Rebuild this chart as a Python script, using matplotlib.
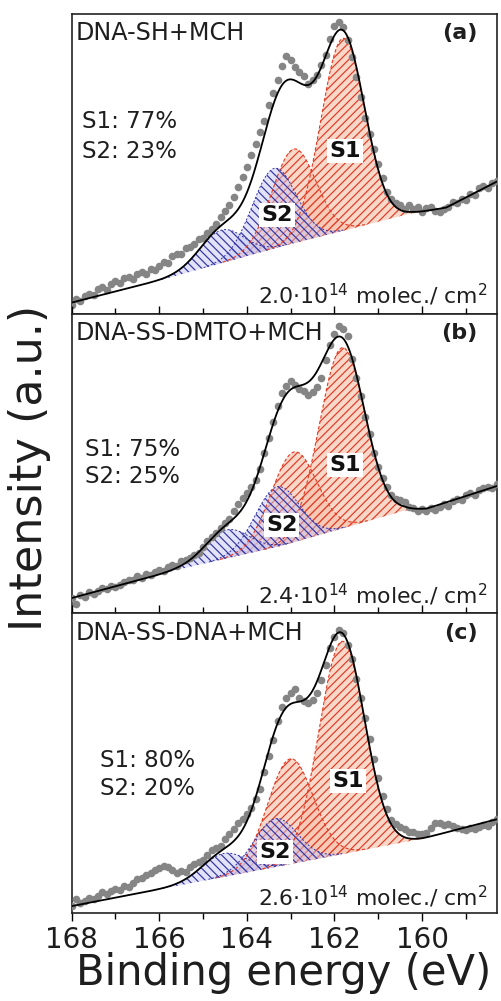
import numpy as np
import matplotlib.pyplot as plt
from matplotlib.ticker import MultipleLocator

plt.rcParams['font.family'] = 'DejaVu Sans'
plt.rcParams['hatch.linewidth'] = 0.85

# measured S 2p spectra, 0.1 eV steps starting at 168.0 eV
intensity_a = [
    3.0, 4.8, 4.2, 5.9, 6.5, 6.1, 8.2, 8.9, 8.0, 9.9,
    10.8, 10.2, 11.9, 12.4, 11.6, 13.2, 13.9, 13.4, 15.0, 14.6,
    15.8, 17.2, 17.0, 19.3, 19.8, 20.0, 21.9, 22.4, 23.1, 24.8,
    25.2, 26.9, 28.3, 30.0, 32.1, 34.3, 36.4, 39.0, 42.3, 45.6,
    48.9, 52.8, 56.7, 60.5, 64.4, 69.6, 73.8, 78.0, 82.6, 86.0,
    84.8, 82.2, 80.6, 79.3, 76.8, 78.1, 79.8, 82.9, 86.4, 91.5,
    95.9, 97.3, 95.6, 91.2, 85.6, 79.0, 72.3, 65.4, 59.8, 55.0,
    50.0, 45.3, 40.7, 38.2, 37.0, 36.4, 35.0, 36.2, 34.8, 35.5,
    33.9, 35.4, 35.7, 34.2, 33.8, 34.9, 35.6, 37.2, 37.0, 38.4,
    38.0, 40.1, 39.6, 41.8, 42.5, 41.9, 43.6, 44.3,
]
intensity_b = [
    5.0, 3.2, 6.2, 5.4, 7.0, 6.6, 7.5, 8.6, 8.1, 9.2,
    8.8, 9.6, 10.4, 11.2, 11.0, 12.3, 11.8, 13.2, 12.9, 13.9,
    14.5, 14.1, 15.4, 16.2, 15.8, 17.4, 17.9, 18.6, 19.4, 20.3,
    22.0, 24.2, 25.5, 26.8, 28.4, 30.2, 31.5, 34.2, 36.4, 38.5,
    40.3, 42.0, 44.6, 48.3, 53.6, 58.4, 64.0, 69.2, 73.4, 75.8,
    77.6, 76.3, 75.0, 74.1, 72.8, 73.9, 75.6, 78.6, 84.5, 89.4,
    93.2, 96.0, 95.0, 92.4, 85.0, 78.4, 72.6, 65.5, 60.0, 53.6,
    48.8, 45.0, 42.0, 39.6, 38.2, 37.9, 37.0, 35.6, 35.0, 34.1,
    34.8, 34.2, 35.3, 34.6, 35.5, 36.4, 35.9, 37.5, 38.2, 37.8,
    39.4, 40.0, 39.6, 41.2, 41.8, 42.2, 41.9, 43.2,
]
intensity_c = [
    2.4, 4.6, 3.3, 4.1, 5.0, 4.6, 5.8, 6.9, 6.2, 7.4,
    8.1, 7.7, 9.0, 8.6, 9.9, 11.2, 11.8, 12.6, 13.4, 14.2,
    15.0, 15.6, 15.2, 14.3, 13.4, 14.1, 13.6, 15.3, 16.2, 17.0,
    17.6, 19.4, 21.0, 21.6, 22.5, 24.8, 26.4, 27.9, 30.1, 31.4,
    33.0, 35.2, 38.0, 41.5, 47.0, 52.4, 57.6, 64.0, 68.6, 71.8,
    73.5, 74.6, 71.9, 70.8, 70.2, 71.0, 73.5, 77.8, 82.6, 88.4,
    92.0, 94.5, 93.4, 89.6, 84.8, 78.2, 71.6, 65.0, 58.2, 51.4,
    45.2, 38.9, 34.6, 31.0, 29.8, 28.6, 27.9, 27.2, 26.9, 26.5,
    26.2, 26.6, 28.4, 30.2, 30.0, 29.4, 29.7, 29.0, 28.4, 28.0,
    27.6, 28.3, 28.0, 28.8, 29.5, 29.2, 30.4, 31.3,
]

# background knots (binding energy, intensity)
bg_energy_a = [168.0, 165.9, 163.2, 160.27, 159.45, 158.29]
bg_level_a = [3.7, 11.5, 22.5, 33.4, 35.4, 44.1]
bg_energy_b = [168.0, 165.6, 163.2, 160.4, 159.9, 158.29]
bg_level_b = [5.1, 14.5, 22.6, 34.3, 34.9, 42.5]
bg_energy_c = [168.0, 160.0, 158.29]
bg_level_c = [2.3, 24.8, 31.3]

# fitted doublets: 2p3/2 and 2p1/2 positions (eV), heights, gaussian sigma (eV)
s1_pos_a, s1_height_a, s1_sigma_a = [161.81, 162.93], [64.2, 31.4], 0.50
s2_pos_a, s2_height_a, s2_sigma_a = [163.38, 164.58], [26.7, 11.0], 0.50
s1_pos_b, s1_height_b, s1_sigma_b = [161.83, 162.93], [60.3, 30.1], 0.52
s2_pos_b, s2_height_b, s2_sigma_b = [163.31, 164.46], [20.0, 9.5], 0.50
s1_pos_c, s1_height_c, s1_sigma_c = [161.83, 163.01], [71.0, 35.1], 0.52
s2_pos_c, s2_height_c, s2_sigma_c = [163.35, 164.53], [16.1, 7.8], 0.50

sample_names = ['DNA-SH+MCH', 'DNA-SS-DMTO+MCH', 'DNA-SS-DNA+MCH']
panel_tags = ['(a)', '(b)', '(c)']
s1_share = [77, 75, 80]
s2_share = [23, 25, 20]
coverage = ['2.0', '2.4', '2.6']

panels = [
    (intensity_a, bg_energy_a, bg_level_a, s1_pos_a, s1_height_a, s1_sigma_a, s2_pos_a, s2_height_a, s2_sigma_a),
    (intensity_b, bg_energy_b, bg_level_b, s1_pos_b, s1_height_b, s1_sigma_b, s2_pos_b, s2_height_b, s2_sigma_b),
    (intensity_c, bg_energy_c, bg_level_c, s1_pos_c, s1_height_c, s1_sigma_c, s2_pos_c, s2_height_c, s2_sigma_c),
]

# text placement in axes fraction: share text (x, y1, y2), S1 label, S2 label, coverage y
share_xy = [(0.024, 0.641, 0.542), (0.031, 0.548, 0.455), (0.067, 0.508, 0.415)]
s1_label_xy = [(0.643, 0.542), (0.643, 0.495), (0.650, 0.442)]
s2_label_xy = [(0.483, 0.330), (0.494, 0.296), (0.478, 0.203)]
coverage_y = [0.064, 0.063, 0.055]

red_face = (0.97, 0.76, 0.68, 0.65)
red_line = '#e23a22'
blue_face = (0.78, 0.78, 0.95, 0.50)
blue_line = '#3434a4'
ink = '#1e1e1e'

fig = plt.figure(figsize=(5.02, 10.01), dpi=100)
gs = fig.add_gridspec(3, 1, left=0.1428, right=0.990, top=0.986, bottom=0.0879, hspace=0)
axes = [fig.add_subplot(gs[i]) for i in range(3)]

fine = np.linspace(168.0, 158.29, 900)


def gauss(x, pos, height, sigma):
    return height * np.exp(-(x - pos) ** 2 / (2 * sigma ** 2))


for i, (ax, p) in enumerate(zip(axes, panels)):
    data, bgE, bgI, p1, h1, w1, p2, h2, w2 = p
    energy = 168.0 - 0.1 * np.arange(len(data))
    bg = np.interp(fine, bgE[::-1], bgI[::-1])

    total = bg.copy()
    for pos, h in zip(p1, h1):
        comp = gauss(fine, pos, h, w1)
        total += comp
        mask = comp > 0.15
        ax.fill_between(fine, bg, bg + comp, where=mask, facecolor=red_face,
                        edgecolor=red_line, hatch='////', linewidth=0, zorder=1)
        ax.plot(fine, np.where(mask, bg + comp, np.nan), color=red_line,
                lw=0.8, ls=(0, (3, 2)), zorder=2)
    for pos, h in zip(p2, h2):
        comp = gauss(fine, pos, h, w2)
        total += comp
        mask = comp > 0.15
        ax.fill_between(fine, bg, bg + comp, where=mask, facecolor=blue_face,
                        edgecolor=blue_line, hatch='\\\\\\\\', linewidth=0, zorder=1.5)
        ax.plot(fine, np.where(mask, bg + comp, np.nan), color=blue_line,
                lw=0.7, ls=(0, (2, 2)), zorder=2)

    ax.plot(energy, data, 'o', ms=5.5, color='#858585', mec='none', zorder=3)
    ax.plot(fine, total, color='black', lw=1.3, zorder=4)

    ax.set_xlim(168, 158.29)
    ax.set_ylim(0, 100)
    ax.set_yticks([])
    ax.set_xticks([168, 166, 164, 162, 160])
    ax.xaxis.set_minor_locator(MultipleLocator(1))
    ax.tick_params(axis='x', which='major', direction='out', length=6, width=1,
                   top=(i > 0), bottom=True, labelbottom=(i == 2), labelsize=20,
                   pad=3, labelcolor=ink)
    ax.tick_params(axis='x', which='minor', direction='out', length=4, width=1,
                   top=(i > 0), bottom=True)
    for s in ax.spines.values():
        s.set_linewidth(1.2)
        s.set_color('#222222')

    ax.text(0.010, 0.935, sample_names[i], transform=ax.transAxes, ha='left', va='center',
            fontsize=17.2, color=ink, zorder=6)
    ax.text(0.955, 0.935, panel_tags[i], transform=ax.transAxes, ha='right', va='center',
            fontsize=16, fontweight='bold', color=ink, zorder=6)
    sx, sy1, sy2 = share_xy[i]
    ax.text(sx, sy1, f'S1: {s1_share[i]}%', transform=ax.transAxes, ha='left', va='center',
            fontsize=16.6, color=ink, zorder=6)
    ax.text(sx, sy2, f'S2: {s2_share[i]}%', transform=ax.transAxes, ha='left', va='center',
            fontsize=16.6, color=ink, zorder=6)
    ax.text(*s1_label_xy[i], 'S1', transform=ax.transAxes, ha='center', va='center',
            fontsize=16, fontweight='bold', color='#111111', zorder=6,
            bbox=dict(facecolor='white', edgecolor='none', pad=1.5))
    ax.text(*s2_label_xy[i], 'S2', transform=ax.transAxes, ha='center', va='center',
            fontsize=16, fontweight='bold', color='#111111', zorder=6,
            bbox=dict(facecolor='white', edgecolor='none', pad=1.5))
    ax.text(0.977, coverage_y[i], coverage[i] + '·10$^{14}$ molec./ cm$^{2}$',
            transform=ax.transAxes, ha='right', va='center', fontsize=15.8,
            color=ink, zorder=6)

fig.text(284 / 502, 1 - 973 / 1001, 'Binding energy (eV)', ha='center', va='center',
         fontsize=30, color=ink)
fig.text(30 / 502, 1 - 468 / 1001, 'Intensity (a.u.)', ha='center', va='center',
         rotation=90, fontsize=32, color=ink)

fig.savefig('out.png', dpi=100)
